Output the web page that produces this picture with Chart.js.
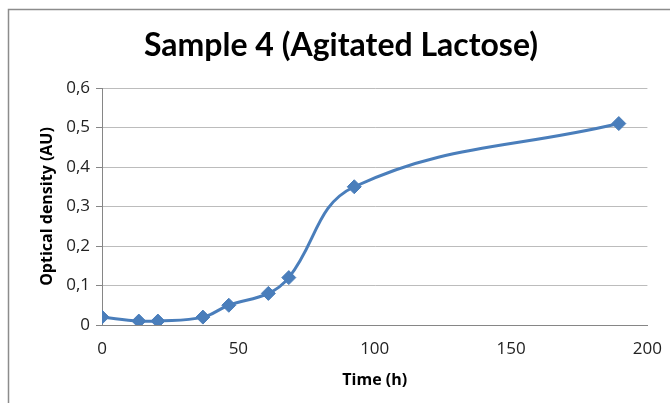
<!DOCTYPE html>
<html>
<head>
<meta charset="utf-8">
<script src="https://cdn.jsdelivr.net/npm/chart.js@4/dist/chart.umd.min.js"></script>
<style>
html,body{margin:0;padding:0;background:#fff;}
#wrap{width:670px;height:403px;position:relative;}
</style>
</head>
<body>
<div id="wrap"><canvas id="c" width="670" height="403"></canvas></div>
<script>
const timeHours = [0, 13.5, 20.5, 37, 46.5, 61, 68.5, 92.5, 189.5];
const opticalDensity = [0.02, 0.01, 0.01, 0.02, 0.05, 0.08, 0.12, 0.35, 0.51];
const xTicks = [0, 50, 100, 150, 200];
const yTicks = [0, 0.1, 0.2, 0.3, 0.4, 0.5, 0.6];

const points = timeHours.map((t, i) => ({x: t, y: opticalDensity[i]}));

const frame = {
  id: 'frame',
  beforeDraw(chart) {
    const ctx = chart.ctx;
    ctx.save();
    ctx.fillStyle = '#fff';
    ctx.fillRect(0, 0, chart.width, chart.height);
    ctx.strokeStyle = '#8c8c8c';
    ctx.lineWidth = 1.5;
    ctx.beginPath();
    ctx.moveTo(8.5, chart.height);
    ctx.lineTo(8.5, 9.5);
    ctx.lineTo(chart.width, 9.5);
    ctx.stroke();
    ctx.restore();
  }
};

new Chart(document.getElementById('c'), {
  type: 'scatter',
  data: {
    datasets: [{
      data: points,
      showLine: true,
      tension: 0.4,
      borderColor: '#4A7EBB',
      backgroundColor: '#4A7EBB',
      borderWidth: 3,
      pointStyle: 'rectRot',
      pointRadius: 7,
      pointBorderWidth: 1,
      pointBorderColor: '#4A7EBB',
      pointBackgroundColor: '#4A7EBB'
    }]
  },
  options: {
    responsive: false,
    animation: false,
    layout: {padding: {left: 34, right: 22, top: 0, bottom: 13}},
    plugins: {
      legend: {display: false},
      tooltip: {enabled: false},
      title: {
        display: true,
        text: 'Sample 4 (Agitated Lactose)',
        color: '#000',
        font: {family: 'Lato', size: 32, weight: 'bold'},
        padding: {top: 26, bottom: 23.6}
      }
    },
    scales: {
      x: {
        type: 'linear',
        min: 0, max: 200,
        afterBuildTicks(scale) { scale.ticks = xTicks.map(v => ({value: v})); },
        afterFit(scale) { scale.height = 65; },
        grid: {display: false, drawTicks: true, tickLength: 6, color: '#868686'},
        border: {display: true, color: '#868686', width: 1},
        ticks: {color: '#222', font: {family: 'Open Sans', size: 17}, padding: 8, maxRotation: 0},
        title: {display: true, text: 'Time (h)', color: '#000', font: {family: 'Open Sans', size: 16, weight: 'bold'}, padding: {top: 4, bottom: 0}}
      },
      y: {
        min: 0, max: 0.6,
        afterBuildTicks(scale) { scale.ticks = yTicks.map(v => ({value: v})); },
        afterFit(scale) { scale.width = 68; },
        grid: {color: '#bcbcbc', lineWidth: 1, drawTicks: true, tickLength: 6, tickColor: '#868686'},
        border: {display: true, color: '#868686', width: 1},
        ticks: {
          color: '#222', font: {family: 'Open Sans', size: 17}, padding: 6,
          callback: v => (v === 0 ? '0' : v.toFixed(1).replace('.', ','))
        },
        title: {display: true, text: 'Optical density (AU)', color: '#000', font: {family: 'Open Sans', size: 16, weight: 'bold'}, padding: {bottom: 0}}
      }
    }
  },
  plugins: [frame]
});
</script>
</body>
</html>
